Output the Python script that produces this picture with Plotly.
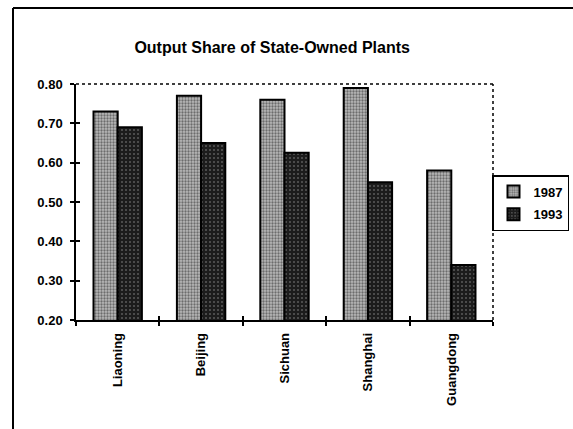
import plotly.graph_objects as go

provinces = ["Liaoning", "Beijing", "Sichuan", "Shanghai", "Guangdong"]
share_1987 = [0.73, 0.77, 0.76, 0.79, 0.58]
share_1993 = [0.69, 0.65, 0.625, 0.55, 0.34]
y_ticks = [0.20, 0.30, 0.40, 0.50, 0.60, 0.70, 0.80]

W, H = 573, 429
ML, MR, MT, MB = 76, 80, 84, 109
PW, PH = W - ML - MR, H - MT - MB

def px_x(p):
    return (p - ML) / PW

def px_y(p):
    return (H - MB - p) / PH

fig = go.Figure()
fig.add_trace(go.Bar(
    name="1987", x=provinces, y=share_1987, legendgroup="a",
    marker=dict(color="#a8a8a8", line=dict(color="black", width=2),
                pattern=dict(shape=".", fgcolor="#202020", bgcolor="#b8b8b8", size=3, solidity=0.45)),
))
fig.add_trace(go.Bar(
    name="1993", x=provinces, y=share_1993, legendgroup="b",
    marker=dict(color="#2a2a2a", line=dict(color="black", width=2),
                pattern=dict(shape=".", fgcolor="#9a9a9a", bgcolor="#1c1c1c", size=4, solidity=0.2)),
))
# invisible helper trace so the overlay axes (inner half of the crossing ticks) are drawn
fig.add_trace(go.Scatter(
    x=list(range(len(provinces))), y=share_1987, xaxis="x2", yaxis="y2",
    mode="markers", marker=dict(opacity=0), showlegend=False, hoverinfo="skip",
))

font_family = "Liberation Sans, Arial, sans-serif"
tick_font = dict(family=font_family, size=13, color="black", weight="bold")

fig.update_layout(
    width=W, height=H,
    margin=dict(l=ML, r=MR, t=MT, b=MB, autoexpand=False),
    paper_bgcolor="white", plot_bgcolor="white",
    barmode="group", bargap=0.42, bargroupgap=0,
    font=dict(family=font_family, color="black", size=11),
    title=dict(text="<b>Output Share of State-Owned Plants</b>", x=0.475, xanchor="center",
               y=1 - 47 / H, yanchor="middle",
               font=dict(family=font_family, size=16, color="black")),
    legend=dict(x=px_x(569), y=px_y(175), xanchor="right", yanchor="top",
                bordercolor="black", borderwidth=1.5, bgcolor="white",
                font=dict(family=font_family, size=13, color="black", weight="bold"),
                itemwidth=30, tracegroupgap=3, traceorder="grouped"),
    showlegend=True,
    xaxis=dict(
        showline=True, linecolor="black", linewidth=1.5,
        ticks="outside", ticklen=4, tickcolor="black", tickwidth=1.5,
        tickson="boundaries", tickangle=-90, automargin=False, ticklabelstandoff=6,
        tickfont=tick_font, showgrid=False, zeroline=False,
    ),
    yaxis=dict(
        range=[0.2, 0.8], tickvals=y_ticks, tickformat=".2f", automargin=False,
        showline=True, linecolor="black", linewidth=1.5,
        ticks="outside", ticklen=4, tickcolor="black", tickwidth=1.5, ticklabelstandoff=5,
        tickfont=tick_font, showgrid=False, zeroline=False,
    ),
    xaxis2=dict(
        overlaying="x", anchor="y2", range=[-0.5, len(provinces) - 0.5],
        tickvals=[i - 0.5 for i in range(len(provinces) + 1)],
        ticks="inside", ticklen=4, tickcolor="black", tickwidth=1.5,
        showticklabels=False, showline=False, showgrid=False, zeroline=False, automargin=False,
    ),
    yaxis2=dict(
        overlaying="y", anchor="x2", range=[0.2, 0.8], tickvals=y_ticks,
        ticks="inside", ticklen=4, tickcolor="black", tickwidth=1.5,
        showticklabels=False, showline=False, showgrid=False, zeroline=False, automargin=False,
    ),
)

shapes = [
    dict(type="line", xref="paper", yref="paper", x0=0, x1=1, y0=1, y1=1,
         line=dict(color="black", width=1.5, dash="dot")),
    dict(type="line", xref="paper", yref="paper", x0=1, x1=1, y0=0, y1=1,
         line=dict(color="black", width=1.5, dash="dot")),
    dict(type="line", xref="paper", yref="paper", x0=px_x(13), x1=px_x(13), y0=px_y(429), y1=px_y(8),
         line=dict(color="black", width=2)),
    dict(type="line", xref="paper", yref="paper", x0=px_x(13), x1=px_x(573), y0=px_y(8), y1=px_y(8),
         line=dict(color="black", width=2)),
]
fig.update_layout(shapes=shapes)

fig.write_html("out.html", config={"displayModeBar": False},
               post_script="document.body.style.margin='0';document.body.style.overflow='hidden';")
